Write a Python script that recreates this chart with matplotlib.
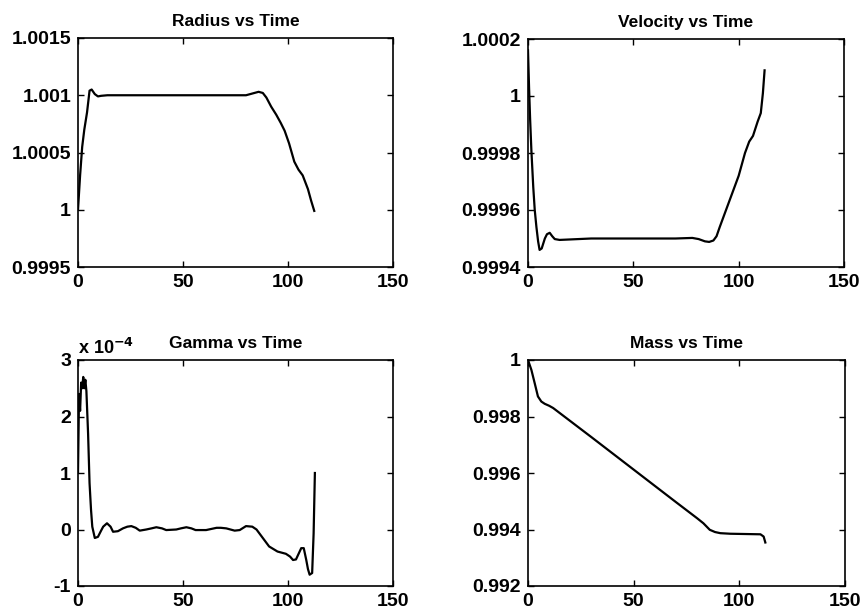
import matplotlib
matplotlib.use("Agg")
import matplotlib.pyplot as plt
from matplotlib.ticker import FuncFormatter

plt.rcParams['font.family'] = ['Liberation Sans', 'DejaVu Sans']
plt.rcParams['font.weight'] = 'bold'
plt.rcParams['mathtext.default'] = 'bf'

# Radius vs Time
radius_t = [0, 1, 2, 3, 4.3, 5.5, 6.5, 8, 9.5, 11, 14, 30, 50, 70, 80, 84, 86, 88, 89.7,
            92, 94.4, 96.5, 98.4, 100.5, 103, 105, 107, 109.5, 111, 112.5]
radius_v = [1.0, 1.0003, 1.00055, 1.0007, 1.00085, 1.00104, 1.00105, 1.00101, 1.00099,
            1.000995, 1.001, 1.001, 1.001, 1.001, 1.001, 1.00102, 1.00103, 1.00102, 1.00098,
            1.0009, 1.00083, 1.00076, 1.00069, 1.00058, 1.00042, 1.00035, 1.0003, 1.00018,
            1.00008, 0.99999]

# Velocity vs Time
vel_t = [0, 0.5, 1, 1.6, 2.5, 3.2, 4, 4.8, 5.5, 6.5, 8, 9, 10.3, 11.5, 12.7, 15, 30, 50,
         70, 78, 81, 84, 86, 88, 89.5, 91, 92.5, 95, 97, 100, 103, 105, 106.8, 109, 110.5,
         111.5, 112.3]
vel_v = [1.00016, 1.00003, 0.99992, 0.99981, 0.99968, 0.9996, 0.99954, 0.99949, 0.99946,
         0.999465, 0.9995, 0.999515, 0.99952, 0.999508, 0.999498, 0.999495, 0.9995, 0.9995,
         0.9995, 0.999502, 0.999498, 0.99949, 0.999488, 0.999493, 0.999508, 0.99954, 0.99957,
         0.99962, 0.99966, 0.99972, 0.9998, 0.99984, 0.99986, 0.99991, 0.99994, 1.00001,
         1.00009]

# Gamma vs Time (units of 1e-4)
gam_t = [0, 0.5, 1, 1.5, 2, 2.5, 3, 3.5, 4, 4.8, 5.5, 6.2, 6.8, 8, 9.5, 11, 12, 13.8,
         15.5, 16.7, 19, 21.4, 23.5, 25.4, 27.5, 29.4, 32.5, 35, 37.3, 40, 42, 46.8, 49,
         51.6, 54, 56, 61, 63.5, 66, 68, 70.6, 74.6, 77, 80, 83, 85, 87, 89, 91, 95, 99,
         101, 102.4, 103.8, 104.8, 106.3, 107.5, 108.7, 109.5, 110.3, 111.5, 112.2, 112.8]
gam_v = [1.0, 2.4, 2.1, 2.6, 2.5, 2.7, 2.5, 2.65, 2.45, 1.7, 0.82, 0.35, 0.05, -0.15,
         -0.13, -0.02, 0.05, 0.11, 0.05, -0.04, -0.03, 0.02, 0.05, 0.06, 0.03, -0.02, 0.0,
         0.02, 0.04, 0.02, -0.01, 0.0, 0.02, 0.04, 0.02, -0.01, -0.01, 0.01, 0.03, 0.03,
         0.02, -0.02, -0.01, 0.06, 0.05, 0.0, -0.1, -0.2, -0.3, -0.39, -0.43, -0.48, -0.54,
         -0.53, -0.45, -0.33, -0.33, -0.54, -0.7, -0.8, -0.77, -0.07, 1.0]

# Mass vs Time
mass_t = [0, 1.6, 3.2, 4.7, 6.3, 7.9, 10, 11.9, 30, 50, 70, 80, 83, 86, 88.5, 91, 95.7,
          110, 111.5, 112.3]
mass_v = [1.0, 0.99965, 0.99917, 0.99871, 0.99853, 0.99845, 0.99838, 0.9983, 0.99727,
          0.99612, 0.99497, 0.9944, 0.99422, 0.99399, 0.99391, 0.99387, 0.99385, 0.99383,
          0.99375, 0.99354]

fig = plt.figure(figsize=(8.63, 6.13), dpi=100)
W, H = 863.0, 613.0
boxes = [(78, 38, 393, 267), (528, 39, 844, 267), (78, 360, 393, 586), (528, 360, 845, 586)]
axs = [fig.add_axes([x0 / W, 1 - y1 / H, (x1 - x0) / W, (y1 - y0) / H]) for x0, y0, x1, y1 in boxes]

fmt = FuncFormatter(lambda v, p: '%g' % round(v, 6))

series = [
    (radius_t, radius_v, 'Radius vs Time', [0.9995, 1.0, 1.0005, 1.001, 1.0015]),
    (vel_t, vel_v, 'Velocity vs Time', [0.9994, 0.9996, 0.9998, 1.0, 1.0002]),
    (gam_t, gam_v, 'Gamma vs Time', [-1, 0, 1, 2, 3]),
    (mass_t, mass_v, 'Mass vs Time', [0.992, 0.994, 0.996, 0.998, 1.0]),
]

for ax, (t, v, title, yt) in zip(axs, series):
    ax.plot(t, v, color='black', linewidth=1.6)
    ax.set_xlim(0, 150)
    ax.set_ylim(yt[0], yt[-1])
    ax.set_xticks([0, 50, 100, 150])
    ax.set_yticks(yt)
    ax.yaxis.set_major_formatter(fmt)
    ax.tick_params(direction='in', top=True, right=True, length=4, width=1,
                   labelsize=14, pad=5)
    for lab in ax.get_xticklabels() + ax.get_yticklabels():
        lab.set_fontweight('bold')
    for s in ax.spines.values():
        s.set_linewidth(1.2)
    ax.set_title(title, fontsize=12.5, fontweight='bold', pad=9)

axs[2].text(0.0, 1.01, r'x 10$^{-4}$', transform=axs[2].transAxes, fontsize=13,
            fontweight='bold', ha='left', va='bottom')

fig.savefig('out.png', dpi=100)
